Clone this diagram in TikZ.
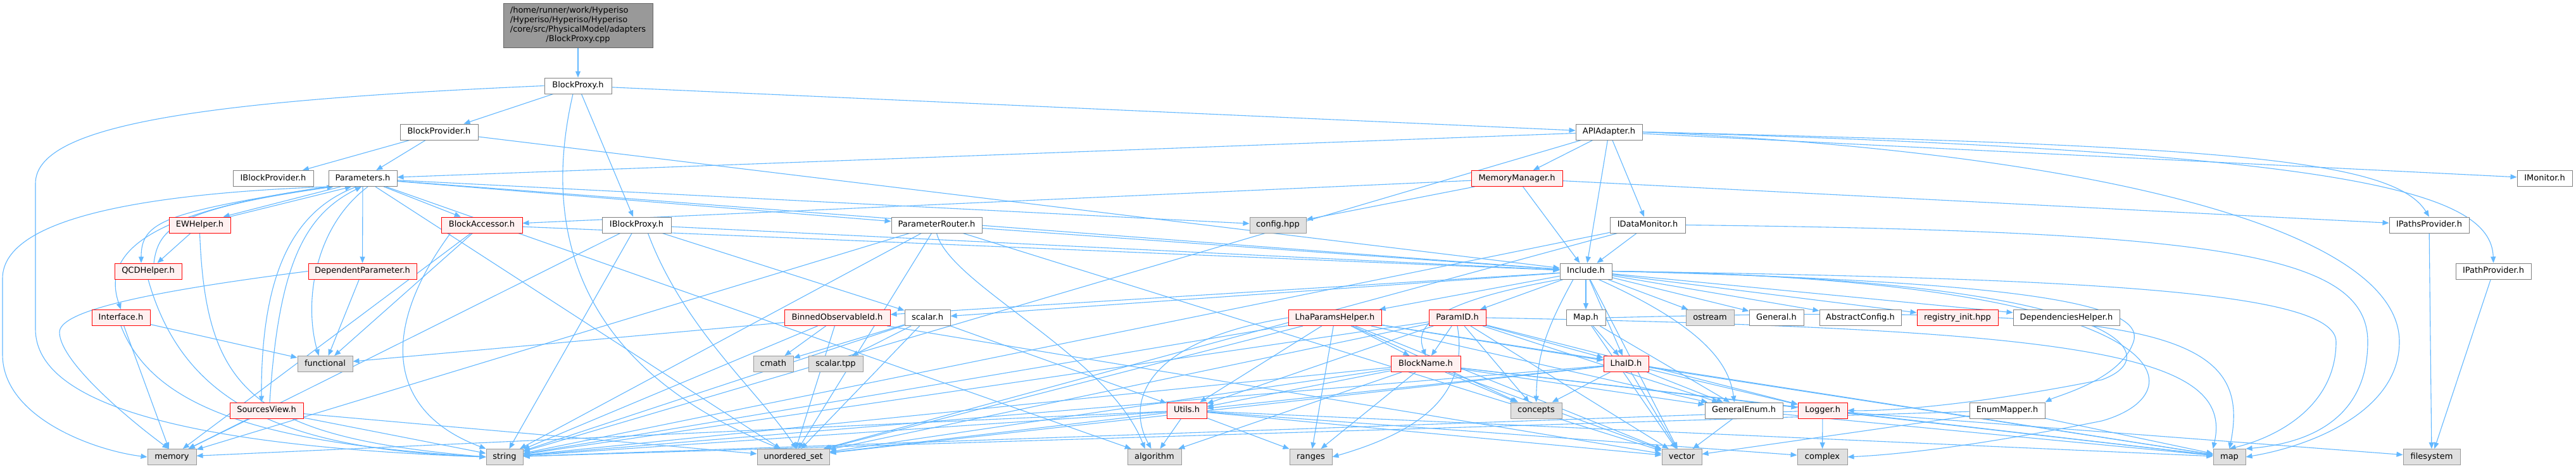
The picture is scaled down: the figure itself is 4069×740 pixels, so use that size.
\documentclass[tikz,border=0pt]{standalone}
\usepackage{fontspec}
\setmainfont{DejaVu Sans}
\usetikzlibrary{arrows.meta,backgrounds}
\definecolor{edgec}{HTML}{63B8FF}
\definecolor{wborder}{HTML}{808080}
\definecolor{rfill}{HTML}{FFF0F0}
\definecolor{gfill}{HTML}{E0E0E0}
\definecolor{gborder}{HTML}{999999}
\definecolor{mfill}{HTML}{999999}
\definecolor{mborder}{HTML}{666666}
\newcommand\nfont{\fontsize{13pt}{15pt}\selectfont}
\begin{document}
\begin{tikzpicture}[x=1pt,y=-1pt,
  box/.style={draw, line width=1pt, minimum height=25pt, inner sep=0pt, text height=9.5pt, text depth=2.7pt, font=\nfont},
  wbox/.style={box, draw=wborder, fill=white},
  rbox/.style={box, draw=red, fill=rfill},
  gbox/.style={box, draw=gborder, fill=gfill},
  mainbox/.style={draw=mborder, fill=mfill, line width=1pt, minimum width=236pt, minimum height=70pt, inner sep=0pt, font=\nfont},
  edge/.style={draw=edgec, line width=1.1pt, -{Triangle[length=10pt,width=8pt]}}]
\useasboundingbox (0,0) rectangle (4069,740);

\node[mainbox] (main) at (913,40) {\begin{tabular}{@{}l@{}}/home/runner/work/Hyperiso\\/Hyperiso/Hyperiso/Hyperiso\\/core/src/PhysicalModel/adapters\\\multicolumn{1}{@{}c@{}}{/BlockProxy.cpp}\end{tabular}};
\node[wbox,minimum width=106pt] (bproxy) at (913,135.5) {BlockProxy.h};
\node[wbox,minimum width=123pt] (bprov) at (693.5,208.5) {BlockProvider.h};
\node[wbox,minimum width=105pt] (api) at (2541.5,208.5) {APIAdapter.h};
\node[wbox,minimum width=127pt] (ibprov) at (431.5,282) {IBlockProvider.h};
\node[wbox,minimum width=108pt] (params) at (573,282) {Parameters.h};
\node[rbox,minimum width=144pt] (mm) at (2396,282) {MemoryManager.h};
\node[wbox,minimum width=87pt] (imon) at (4019.5,282) {IMonitor.h};
\node[rbox,minimum width=97pt] (ewh) at (315.5,355.5) {EWHelper.h};
\node[rbox,minimum width=128pt] (baccess) at (761,355.5) {BlockAccessor.h};
\node[wbox,minimum width=109pt] (ibproxy) at (1005.5,355.5) {IBlockProxy.h};
\node[wbox,minimum width=143pt] (prouter) at (1479.5,355.5) {ParameterRouter.h};
\node[gbox,minimum width=89pt] (config) at (2018.5,355.5) {config.hpp};
\node[wbox,minimum width=119pt] (idm) at (2602.5,355.5) {IDataMonitor.h};
\node[wbox,minimum width=126pt] (ipaths) at (3837,355.5) {IPathsProvider.h};
\node[rbox,minimum width=106pt] (qcd) at (234,428.5) {QCDHelper.h};
\node[rbox,minimum width=171pt] (deppar) at (572.5,428.5) {DependentParameter.h};
\node[wbox,minimum width=82pt] (include) at (2505,428.5) {Include.h};
\node[wbox,minimum width=119pt] (ipath) at (3938.5,428.5) {IPathProvider.h};
\node[rbox,minimum width=92pt] (iface) at (191,502) {Interface.h};
\node[rbox,minimum width=167pt] (binned) at (1322.5,502) {BinnedObservableId.h};
\node[wbox,minimum width=72pt] (scalar) at (1465,502) {scalar.h};
\node[rbox,minimum width=147pt] (lhaph) at (2108.5,502) {LhaParamsHelper.h};
\node[rbox,minimum width=90pt] (paramid) at (2302,502) {ParamID.h};
\node[wbox,minimum width=62pt] (maph) at (2505,502) {Map.h};
\node[gbox,minimum width=76pt] (ostream) at (2701,502) {ostream};
\node[wbox,minimum width=86pt] (general) at (2806,502) {General.h};
\node[wbox,minimum width=129pt] (absconf) at (2938.5,502) {AbstractConfig.h};
\node[rbox,minimum width=128pt] (registry) at (3092,502) {registry\_init.hpp};
\node[wbox,minimum width=168pt] (dephelp) at (3264,502) {DependenciesHelper.h};
\node[gbox,minimum width=87pt] (functional) at (513.5,575) {functional};
\node[gbox,minimum width=63pt] (cmath) at (1221.5,575) {cmath};
\node[gbox,minimum width=86pt] (stpp) at (1320,575) {scalar.tpp};
\node[rbox,minimum width=110pt] (bname) at (2252,575) {BlockName.h};
\node[rbox,minimum width=71pt] (lhaid) at (2568.5,575) {LhaID.h};
\node[rbox,minimum width=116pt] (srcview) at (421,648.5) {SourcesView.h};
\node[rbox,minimum width=63pt] (utils) at (1874.5,648.5) {Utils.h};
\node[gbox,minimum width=81pt] (concepts) at (2426.5,648.5) {concepts};
\node[wbox,minimum width=123pt] (genenum) at (2754.5,648.5) {GeneralEnum.h};
\node[rbox,minimum width=78pt] (logger) at (2879,648.5) {Logger.h};
\node[wbox,minimum width=119pt] (enummap) at (3170.5,648.5) {EnumMapper.h};
\node[gbox,minimum width=77pt] (memory) at (271.5,722) {memory};
\node[gbox,minimum width=58pt] (string) at (797,722) {string};
\node[gbox,minimum width=114pt] (uset) at (1253,722) {unordered\_set};
\node[gbox,minimum width=85pt] (algorithm) at (1823.5,722) {algorithm};
\node[gbox,minimum width=67pt] (ranges) at (2070.5,722) {ranges};
\node[gbox,minimum width=63pt] (vector) at (2656.5,722) {vector};
\node[gbox,minimum width=79pt] (complex) at (2878.5,722) {complex};
\node[gbox,minimum width=51pt] (map) at (3521.5,722) {map};
\node[gbox,minimum width=90pt] (filesystem) at (3841,722) {filesystem};

\begin{scope}[on background layer]
\fill[white] (0,0) rectangle (4069,740);
\foreach \src/\dst in {main/bproxy, bproxy/bprov, bproxy/api, bproxy/ibproxy,
  bprov/ibprov, bprov/params, bprov/include,
  params/deppar, params/baccess, params/prouter, params/config, params/include, params/uset, params/algorithm,
  ewh/qcd, deppar/functional, iface/functional, iface/memory,
  srcview/memory, srcview/string, srcview/uset,
  baccess/include, baccess/functional, baccess/memory,
  ibproxy/include, ibproxy/scalar, ibproxy/string, ibproxy/memory,
  prouter/include, prouter/string, prouter/uset, prouter/memory, prouter/vector,
  api/params, api/mm, api/idm, api/include, api/imon, api/string,
  mm/baccess, mm/config, mm/include, mm/ipaths,
  idm/include, idm/string, idm/uset,
  ipaths/filesystem, ipath/filesystem,
  include/lhaph, include/paramid, include/maph, include/lhaid, include/ostream, include/general, include/absconf, include/registry, include/dephelp, include/scalar, include/binned, include/vector,
  binned/cmath, binned/functional, binned/string, binned/uset, binned/vector,
  scalar/cmath, scalar/stpp, scalar/utils, scalar/string, scalar/uset,
  lhaph/bname, lhaph/lhaid, lhaph/ranges, lhaph/utils, lhaph/string, lhaph/vector, lhaph/map, lhaph/uset, lhaph/genenum, lhaph/concepts,
  paramid/bname, paramid/lhaid, paramid/concepts, paramid/utils, paramid/genenum, paramid/string, paramid/vector, paramid/uset, paramid/logger,
  bname/utils, bname/ranges, bname/concepts, bname/genenum, bname/logger, bname/string, bname/vector, bname/map, bname/algorithm, bname/uset,
  maph/lhaid, maph/vector, maph/genenum,
  lhaid/concepts, lhaid/genenum, lhaid/logger, lhaid/utils, lhaid/vector, lhaid/map, lhaid/string, lhaid/uset,
  utils/algorithm, utils/ranges, utils/string, utils/vector, utils/map, utils/uset, utils/memory, utils/complex,
  genenum/map, genenum/vector,
  logger/complex, logger/map, logger/filesystem, logger/string,
  enummap/map, enummap/vector, enummap/string}
  \draw[edge] (\src) -- (\dst);

% curved edges
\draw[edge] ([xshift=-8pt]bproxy.south) .. controls (870,300) and (860,560) .. ([xshift=-20pt]uset.north);
\draw[edge] ([xshift=18pt]ibproxy.south) .. controls (1080,520) and (1200,620) .. ([xshift=5pt]uset.north);
\draw[edge] (bproxy.west) .. controls (300,160) and (56,200) .. (56,290) -- (56,520) .. controls (56,640) and (300,705) .. (string.west);
\draw[edge] (params.south west) .. controls (250,305) and (4,340) .. (4,440) -- (4,560) .. controls (4,660) and (150,712) .. (memory.west);
\draw[edge] (deppar.west) .. controls (200,465) and (94,495) .. (94,525) .. controls (94,570) and (200,660) .. ([xshift=-5pt]memory.north);
\draw[edge] ([xshift=-35pt]params.south) -- ([xshift=-12pt]ewh.north east);
\draw[edge] ([xshift=-2pt]ewh.north east) -- ([xshift=-18pt]params.south);
\draw[edge] (params.south west) .. controls (260,335) and (223,350) .. ([xshift=-11pt]qcd.north);
\draw[edge] ([xshift=9pt]qcd.north) .. controls (250,360) and (280,330) .. ([xshift=8pt]params.south west);
\draw[edge] (params.south west) .. controls (230,335) and (160,400) .. (iface.north);
\draw[edge] ([xshift=-10pt]params.south) .. controls (470,330) and (412,420) .. ([xshift=-8pt]srcview.north);
\draw[edge] ([xshift=5pt]srcview.north) .. controls (440,420) and (480,340) .. ([xshift=-2pt]params.south);
\draw[edge] ([xshift=8pt]params.south) .. controls (495,360) and (480,480) .. ([xshift=-10pt]functional.north);
\draw[edge] (ewh.south) .. controls (325,620) and (400,690) .. (string.west);
\draw[edge] (qcd.south) .. controls (290,640) and (450,710) .. (string.west);
\draw[edge] (iface.south) .. controls (240,640) and (400,700) .. (string.west);
\draw[edge] ([xshift=15pt]baccess.south west) .. controls (600,520) and (610,650) .. (string.north west);
\draw[edge] (api.east) .. controls (3500,230) and (3780,250) .. (ipaths.north);
\draw[edge] (api.east) .. controls (3700,240) and (3935,300) .. (ipath.north);
\draw[edge] (api.east) .. controls (3300,240) and (3790,360) .. (3790,540) .. controls (3790,650) and (3650,705) .. (map.east);
\draw[edge] (idm.east) .. controls (3500,365) and (3740,400) .. (3740,540) .. controls (3740,660) and (3650,700) .. (map.north east);
\draw[edge] (include.east) .. controls (3300,440) and (3690,460) .. (3690,540) .. controls (3690,640) and (3600,690) .. (map.north);
\draw[edge] (include.east) .. controls (3200,445) and (3390,480) .. (3370,540) .. controls (3350,600) and (3250,625) .. (enummap.north east);
\draw[edge] (include.east) .. controls (3350,440) and (3430,560) .. (3320,600) .. controls (3120,640) and (2980,650) .. (logger.east);
\draw[edge] (include.east) .. controls (3450,440) and (3480,620) .. (3320,665) .. controls (3120,705) and (3000,718) .. (complex.east);
\draw[edge] (include.south west) .. controls (2250,480) and (2236,520) .. (bname.north);
\draw[edge] ([xshift=-20pt]include.south) .. controls (2442,520) and (2428,560) .. (concepts.north);
\draw[edge] ([xshift=20pt]include.south) .. controls (2700,520) and (2732,580) .. ([xshift=-15pt]genenum.north);
\draw[edge] (maph.east) .. controls (3400,480) and (3560,520) .. (map.north);
\draw[edge] (paramid.east) .. controls (3300,520) and (3530,560) .. (map.north west);
\draw[edge] (prouter.south) .. controls (1500,450) and (1750,560) .. ([xshift=-15pt]algorithm.north);
\draw[edge] (lhaph.west) .. controls (1800,540) and (1780,640) .. ([xshift=-5pt]algorithm.north);
\draw[edge] (paramid.south) .. controls (2320,620) and (2250,680) .. (ranges.east);
\end{scope}
\end{tikzpicture}
\end{document}
